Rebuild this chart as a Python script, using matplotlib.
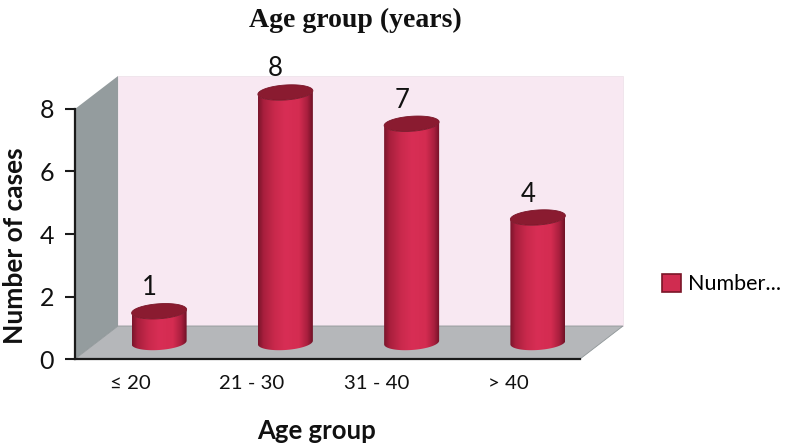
import numpy as np
import matplotlib
matplotlib.use("Agg")
import matplotlib.pyplot as plt
from matplotlib.colors import LinearSegmentedColormap
from matplotlib.patches import Patch, Polygon

categories = ["≤ 20", "21 - 30", "31 - 40", "> 40"]
cases = [1, 8, 7, 4]
y_ticks = [0, 2, 4, 6, 8]

W, H = 786, 448
fig = plt.figure(figsize=(W / 100, H / 100), dpi=100)
L, R, T, B = 75, 580, 109, 359
ax = fig.add_axes([L / W, 1 - B / H, (R - L) / W, (B - T) / H])
ax.set_xlim(-0.5, 3.5)
ax.set_ylim(0, 8)

px = 4 / (R - L)      # data x per pixel
py = 8 / (B - T)      # data y per pixel
dx, dy = 43 * px, 33 * py

# walls and floor
x0, x1 = -0.5, 3.5
ax.add_patch(Polygon([(x0 + dx, dy), (x1 + dx, dy), (x1 + dx, 8 + dy), (x0 + dx, 8 + dy)],
                     fc="#f8e8f2", ec="#efe3ea", lw=0.6, clip_on=False, zorder=1))
ax.add_patch(Polygon([(x0, 0), (x0 + dx, dy), (x0 + dx, 8 + dy), (x0, 8)],
                     fc="#949c9e", ec="none", clip_on=False, zorder=1))
ax.add_patch(Polygon([(x0, 0), (x1, 0), (x1 + dx, dy), (x0 + dx, dy)],
                     fc="#b5b7ba", ec="#8f9698", lw=0.6, clip_on=False, zorder=1))

cmap = LinearSegmentedColormap.from_list(
    "cyl", [(0, "#7a152b"), (0.1, "#a81f3d"), (0.3, "#c9294c"), (0.5, "#d82e55"),
            (0.75, "#d42c51"), (0.9, "#a91f3e"), (1, "#701126")])
grad = np.linspace(0, 1, 128).reshape(1, -1)

a = 27.5 * px          # half width
b = 7.5 * py           # half ellipse height
tilt = 1.8 * py        # right side sits higher
t = np.linspace(0, 2 * np.pi, 100)
base = 16.5 * py

for i, v in enumerate(cases):
    cx = i + 21 * px
    y0, y1 = base, base + v
    tt = np.linspace(np.pi, 2 * np.pi, 50)
    xs = cx + a * np.cos(tt)
    low = y0 + b * np.sin(tt) + tilt * np.cos(tt)
    tb = tt[::-1]
    top = y1 + b * np.sin(tb) + tilt * np.cos(tb)
    verts = np.column_stack([np.r_[xs, cx + a * np.cos(tb)], np.r_[low, top]])
    body = Polygon(verts, closed=True, transform=ax.transData, fc="none", ec="none", clip_on=False)
    ax.add_patch(body)
    im = ax.imshow(grad, cmap=cmap, aspect="auto", zorder=3,
                   extent=[cx - a, cx + a, y0 - b - tilt, y1 + b + tilt])
    im.set_clip_box(fig.bbox)
    im.set_clip_path(body)
    cap = np.column_stack([cx + a * np.cos(t), y1 + b * np.sin(t) + tilt * np.cos(t)])
    ax.add_patch(Polygon(cap, fc="#8a1b30", ec="#7a1528", lw=0.6, zorder=4, clip_on=False))
    ax.text(cx - 10 * px, v + base + 11 * py, str(v), ha="center", va="bottom",
            family="Lato", fontsize=18.5, color="#111111", clip_on=False, zorder=5)

ax.set_xlim(-0.5, 3.5)
ax.set_ylim(0, 8)

for s in ("top", "right"):
    ax.spines[s].set_visible(False)
for s in ("left", "bottom"):
    ax.spines[s].set_linewidth(1.6)
    ax.spines[s].set_color("#1a1a1a")
    ax.spines[s].set_zorder(6)

ax.set_xticks(range(4))
ax.set_xticklabels([])
label_shift_px = [-8, -12.5, -13.5, -9]
for i, c in enumerate(categories):
    ax.annotate(c, (i, 0), xytext=(label_shift_px[i] * 0.72, -24 * 0.72), textcoords="offset points",
                ha="center", va="center", family="Lato", fontsize=14.7, color="#111111",
                annotation_clip=False)
ax.set_yticks(y_ticks)
ax.set_yticklabels([str(v) for v in y_ticks], family="Lato", fontsize=18, color="#111111")
ax.tick_params(axis="x", length=0)
ax.tick_params(axis="y", length=7, width=1.5, color="#1a1a1a", pad=8)

fig.text(317 / W, 1 - 431 / H, "Age group", family="Lato", fontweight="bold", fontsize=18.5,
         ha="center", va="center", color="#111111")
fig.text(15 / W, 1 - 246 / H, "Number of cases", family="Lato", fontweight="bold", fontsize=19,
         rotation=90, ha="center", va="center", color="#111111")
fig.text(355 / W, 1 - 20 / H, "Age group (years)", family="Liberation Serif", fontweight="bold",
         fontsize=20, ha="center", va="center", color="#111111")

handle = Patch(facecolor="#d02c50", edgecolor="#7a1528", linewidth=1.2)
fig.legend([handle], ["Number..."], loc="center left", bbox_to_anchor=(656 / W, 1 - 284 / H),
           frameon=False, prop={"family": "Lato", "size": 15.5}, handlelength=0.85, handleheight=0.95,
           handletextpad=0.35, borderpad=0.3, borderaxespad=0)

fig.savefig("out.png", dpi=100)
